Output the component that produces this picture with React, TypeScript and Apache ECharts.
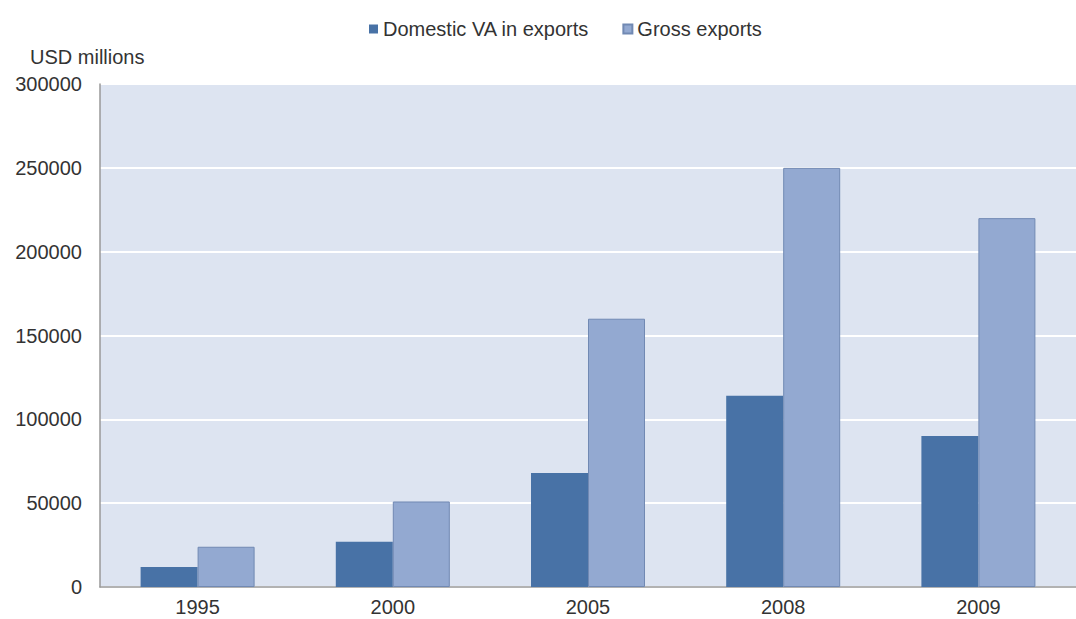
import React, { useEffect, useRef } from "react";
import * as echarts from "echarts";

const categories = ["1995", "2000", "2005", "2008", "2009"];
const domesticVA = [12000, 27000, 68000, 114000, 90000];
const grossExports = [24000, 51000, 160000, 250000, 220000];
const yTicks = [0, 50000, 100000, 150000, 200000, 250000, 300000];

const FONT = "Liberation Sans, Arial";

export default function App() {
  const ref = useRef<HTMLDivElement>(null);
  useEffect(() => {
    const chart = echarts.init(ref.current!, null, { renderer: "svg" });
    chart.setOption({
      animation: false,
      backgroundColor: "#ffffff",
      legend: {
        top: 14,
        left: 364,
        itemWidth: 9,
        itemHeight: 9,
        itemGap: 33,
        textStyle: { fontFamily: FONT, fontSize: 20, color: "#333" },
        data: [
          { name: "Domestic VA in exports", icon: "rect" },
          { name: "Gross exports", icon: "rect" },
        ],
      },
      graphic: [
        {
          type: "text",
          left: 30,
          top: 47,
          style: { text: "USD millions", fontFamily: FONT, fontSize: 20, fill: "#333" },
        },
      ],
      grid: { left: 100, top: 84, width: 986, height: 503, backgroundColor: "#dde4f1", show: true, borderWidth: 0 },
      xAxis: {
        type: "category",
        data: categories,
        axisLine: { lineStyle: { color: "#999", width: 1.5 } },
        axisTick: { show: false },
        axisLabel: { fontFamily: FONT, fontSize: 20, color: "#333", margin: 10 },
      },
      yAxis: {
        type: "value",
        min: yTicks[0],
        max: yTicks[yTicks.length - 1],
        interval: 50000,
        axisLine: { show: true, lineStyle: { color: "#999", width: 1.5 } },
        axisTick: { show: false },
        splitLine: { lineStyle: { color: "#ffffff", width: 2 } },
        axisLabel: {
          fontFamily: FONT,
          fontSize: 20,
          color: "#333",
          margin: 18,
          formatter: (v: number) => String(v),
        },
      },
      series: [
        {
          name: "Domestic VA in exports",
          type: "bar",
          data: domesticVA,
          barWidth: 57,
          barGap: "0%",
          itemStyle: { color: "#4872a6" },
        },
        {
          name: "Gross exports",
          type: "bar",
          data: grossExports,
          barWidth: 57,
          itemStyle: { color: "#93a9d1", borderColor: "#7189b3", borderWidth: 1 },
        },
      ],
    });
    return () => chart.dispose();
  }, []);
  return <div ref={ref} style={{ width: 1076, height: 619, position: "absolute", left: 0, top: 0 }} />;
}
